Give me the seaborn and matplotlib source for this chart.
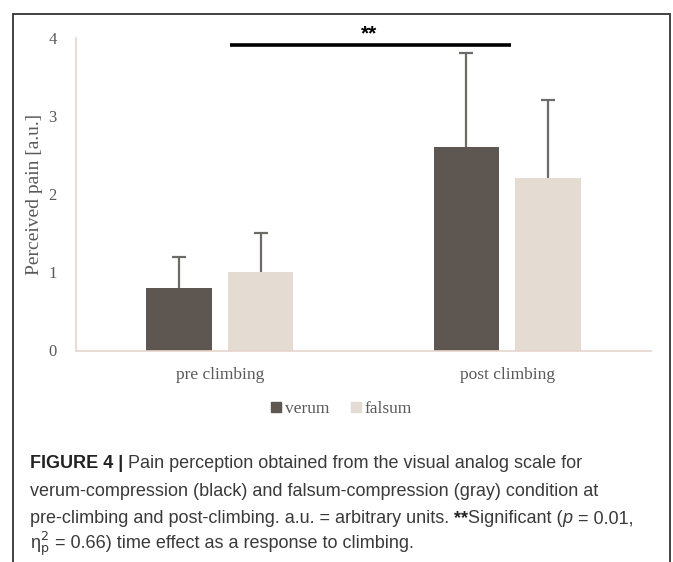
import matplotlib
matplotlib.use("Agg")
import matplotlib.pyplot as plt
import matplotlib.transforms as mtransforms
from matplotlib.patches import Rectangle
from matplotlib.lines import Line2D
import seaborn as sns
import pandas as pd

# ---- data ----
categories = ["pre climbing", "post climbing"]
groups = ["verum", "falsum"]
verum_mean = [0.8, 2.6]
falsum_mean = [1.0, 2.2]
verum_sd = [0.4, 1.2]
falsum_sd = [0.5, 1.0]
y_ticks = [0, 1, 2, 3, 4]
sig_label = "**"
sig_level = 3.91

colors = {"verum": "#5e5650", "falsum": "#e4dbd2"}

df = pd.DataFrame({
    "time": categories * 2,
    "group": ["verum"] * 2 + ["falsum"] * 2,
    "pain": verum_mean + falsum_mean,
    "sd": verum_sd + falsum_sd,
})

sns.set_style("white")
plt.rcParams["font.family"] = ["Liberation Serif", "DejaVu Serif"]

W, H = 673, 562
fig = plt.figure(figsize=(W / 100, H / 100), dpi=100)
ax = fig.add_axes([76 / W, 1 - 350.5 / H, (651 - 76) / W, (350.5 - 37.7) / H])

sns.barplot(data=df, x="time", y="pain", hue="group", order=categories,
            hue_order=groups, palette=colors, width=0.57, gap=0.2,
            errorbar=None, legend=False, ax=ax, saturation=1, linewidth=0)

# one-sided error bars
sd_lookup = {(r.group, r.time): r.sd for r in df.itertuples()}
bars = [p for p in ax.patches]
order_keys = [(g, c) for g in groups for c in categories]
for p, key in zip(bars, order_keys):
    xc = p.get_x() + p.get_width() / 2
    h = p.get_height()
    eb = ax.errorbar([xc], [h], yerr=[[0], [sd_lookup[key]]], fmt="none",
                     ecolor="#6e6a66", elinewidth=1.6, capsize=5, capthick=1.6)
    caps = eb[1]
    if len(caps) == 2:
        caps[0].set_visible(False)

ax.set_xlim(-0.5, 1.5)
ax.set_ylim(0, 4)
ax.set_yticks(y_ticks)
ax.set_xlabel("")
ax.set_ylabel("Perceived pain [a.u.]", fontsize=14, color="#595959", labelpad=4)

for s in ["top", "right"]:
    ax.spines[s].set_visible(False)
for s in ["left", "bottom"]:
    ax.spines[s].set_color("#e6d6cc")
    ax.spines[s].set_linewidth(1.2)

ax.tick_params(axis="y", length=0, pad=14, labelsize=12, labelcolor="#595959")
ax.tick_params(axis="x", length=0, pad=12, labelsize=12.5, labelcolor="#595959")
ax.set_xticks([-0.5, 0.5, 1.5], minor=True)
ax.tick_params(axis="x", which="minor", direction="in", length=4, color="#e6d6cc", width=1.2)

# significance line
ax.plot([0.036, 1.013], [sig_level, sig_level], color="black", lw=2.6,
        solid_capstyle="butt", clip_on=False)
ax.text(0.52, sig_level + 0.02, sig_label, ha="center", va="bottom",
        fontsize=15, fontweight="bold", family=["Liberation Sans", "DejaVu Sans"],
        color="black")

# legend
handles = [Line2D([], [], marker="s", ls="none", markersize=7.5,
                  markerfacecolor=colors[g], markeredgecolor=colors[g]) for g in groups]
fig.legend(handles, groups, loc="center", bbox_to_anchor=(341 / W, 1 - 409 / H),
           ncol=2, frameon=False, fontsize=12.5, handlelength=0.7,
           handletextpad=0.15, columnspacing=1.2, labelcolor="#595959")

# figure border
fig.patches.append(Rectangle((13 / W, -0.05), (670 - 13) / W, 1.05 - 14 / H,
                             transform=fig.transFigure, fill=False,
                             edgecolor="#333333", lw=1.3))

# caption
cap_font = ["Liberation Sans", "DejaVu Sans"]
cap_size = 13
cap_color = "#3a3a3a"
ident = mtransforms.IdentityTransform()
fig.canvas.draw()
renderer = fig.canvas.get_renderer()


def draw_line(pieces, x0, ytop):
    x = x0
    for txt, props in pieces:
        kw = dict(fontsize=cap_size, family=cap_font, color=cap_color, va="baseline")
        kw.update(props)
        t = fig.text(x, H - ytop, txt, transform=ident, **kw)
        bb = t.get_window_extent(renderer)
        x = bb.x1


bold = {"fontweight": "bold", "color": "#222222"}
draw_line([("FIGURE 4 |", bold),
           (" Pain perception obtained from the visual analog scale for", {})], 30, 468)
draw_line([("verum-compression (black) and falsum-compression (gray) condition at", {})], 30, 496)
draw_line([("pre-climbing and post-climbing. a.u. = arbitrary units. ", {}),
           ("**", bold), ("Significant (", {}), ("p", {"fontstyle": "italic"}),
           (" = 0.01,", {})], 30, 523)
draw_line([("η", {}), (r"${}_{\mathrm{p}}^{2}$", {}),
           (" = 0.66) time effect as a response to climbing.", {})], 30, 548)

fig.savefig("out.png", dpi=100)
